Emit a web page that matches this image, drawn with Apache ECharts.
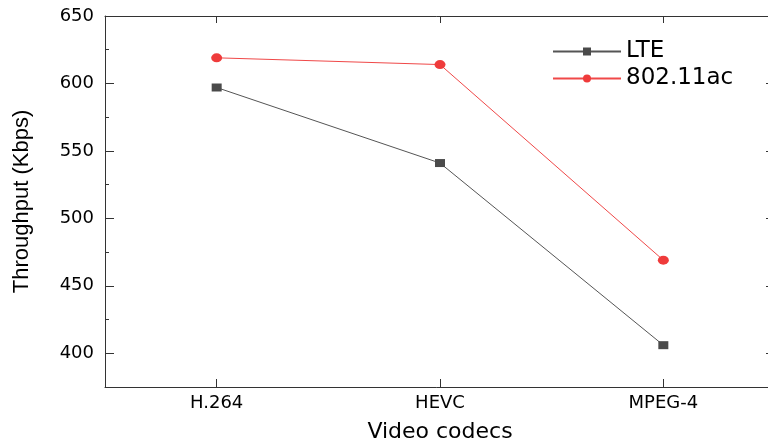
<!DOCTYPE html>
<html>
<head>
<meta charset="utf-8">
<script src="https://cdn.jsdelivr.net/npm/echarts@6/dist/echarts.min.js"></script>
<style>
html,body{margin:0;padding:0;background:#fff;}
#chart{width:768px;height:448px;}
</style>
</head>
<body>
<div id="chart"></div>
<script>
var categories = ['H.264', 'HEVC', 'MPEG-4'];
var lteValues = [597, 541, 406];
var wifiValues = [619, 614, 469];
var seriesNames = ['LTE', '802.11ac'];
var yName = 'Throughput (Kbps)';
var xName = 'Video codecs';

var axisColor = '#333';
var chart = echarts.init(document.getElementById('chart'), null, {renderer: 'canvas'});

var yMin = 375, yMax = 650;

chart.setOption({
  backgroundColor: '#fff',
  animation: false,
  grid: {left: 105, top: 16, width: 670, bottom: 61, containLabel: false, outerBoundsMode: 'none'},
  legend: {
    orient: 'vertical',
    left: 547,
    top: 35,
    itemWidth: 68,
    itemHeight: 10,
    itemGap: 4,
    textStyle: {fontFamily: 'DejaVu Sans', fontSize: 23, color: '#000'},
    data: seriesNames
  },
  xAxis: [{
    type: 'category',
    data: categories,
    position: 'bottom',
    boundaryGap: true,
    name: xName,
    nameLocation: 'middle',
    nameGap: 34,
    nameTextStyle: {fontFamily: 'DejaVu Sans', fontSize: 22, color: '#000'},
    axisLine: {lineStyle: {color: axisColor, width: 1}},
    axisTick: {show: true, inside: true, length: 8, alignWithLabel: true, lineStyle: {color: axisColor}},
    axisLabel: {fontFamily: 'DejaVu Sans', fontSize: 18, color: '#000', margin: 7},
    splitLine: {show: false}
  }, {
    type: 'category',
    data: categories,
    position: 'top',
    boundaryGap: true,
    axisLine: {lineStyle: {color: axisColor, width: 1}},
    axisTick: {show: true, inside: true, length: 7, alignWithLabel: true, lineStyle: {color: axisColor}},
    axisLabel: {show: false},
    splitLine: {show: false}
  }],
  yAxis: [{
    type: 'value',
    position: 'left',
    min: yMin,
    max: yMax,
    interval: 25,
    axisLine: {show: true, lineStyle: {color: axisColor, width: 1}},
    axisTick: {show: true, inside: true, length: 4, lineStyle: {color: axisColor}},
    axisLabel: {show: false},
    splitLine: {show: false}
  }, {
    type: 'value',
    position: 'left',
    min: yMin,
    max: yMax,
    name: yName,
    nameLocation: 'middle',
    nameGap: 72,
    nameTextStyle: {fontFamily: 'Liberation Sans', fontSize: 22, color: '#000'},
    axisLine: {show: false},
    axisTick: {show: true, inside: true, length: 9, lineStyle: {color: axisColor}},
    axisLabel: {
      fontFamily: 'DejaVu Sans', fontSize: 18, color: '#000', margin: 11,
      formatter: function (v) { return v % 50 === 0 ? String(v) : ''; }
    },
    splitLine: {show: false}
  }, {
    type: 'value',
    position: 'right',
    min: yMin,
    max: yMax,
    axisLine: {show: true, lineStyle: {color: axisColor, width: 1}},
    axisTick: {show: true, inside: true, length: 9, lineStyle: {color: axisColor}},
    axisLabel: {show: false},
    splitLine: {show: false}
  }],
  series: [{
    name: seriesNames[0],
    type: 'line',
    xAxisIndex: 0,
    yAxisIndex: 0,
    data: lteValues,
    symbol: 'rect',
    symbolSize: [10, 8],
    lineStyle: {color: '#555', width: 1},
    itemStyle: {color: '#4a4a4a'},
    z: 3
  }, {
    name: seriesNames[1],
    type: 'line',
    xAxisIndex: 0,
    yAxisIndex: 0,
    data: wifiValues,
    symbol: 'circle',
    symbolSize: [11, 9],
    lineStyle: {color: '#f04848', width: 1},
    itemStyle: {color: '#ef3b3b'},
    z: 4
  }]
});
</script>
</body>
</html>
